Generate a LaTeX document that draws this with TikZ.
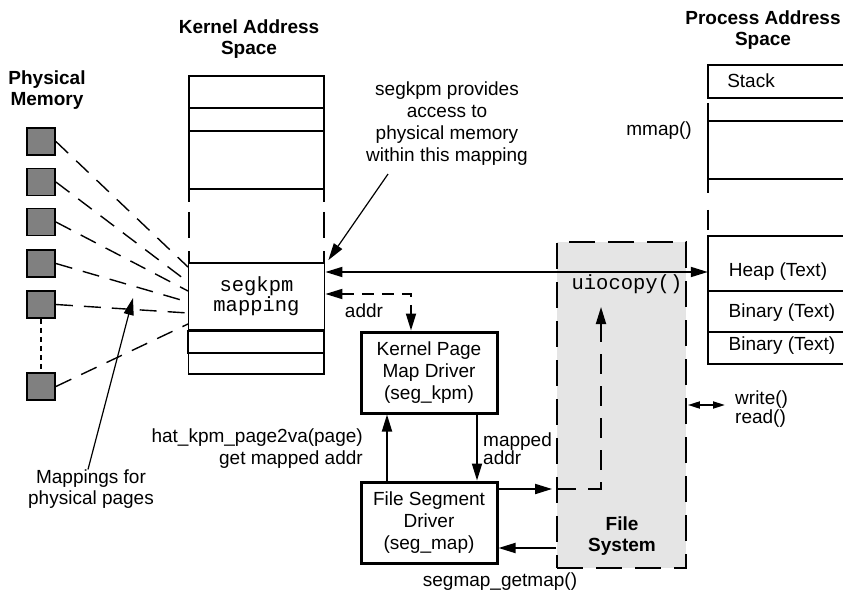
\documentclass[tikz,border=0pt]{standalone}
\usepackage{fontspec}
\setmainfont{Liberation Sans}
\newfontfamily\monof{Liberation Mono}
\usetikzlibrary{arrows.meta}
\definecolor{memgray}{RGB}{128,128,128}
\definecolor{fsgray}{RGB}{229,229,229}
\begin{document}
\begin{tikzpicture}[x=1pt,y=-1pt,
  txt/.style={font=\fontsize{19}{22}\selectfont, inner sep=0pt, align=center},
  ttl/.style={font=\fontsize{19}{20.5}\selectfont\bfseries, inner sep=0pt, align=center},
  mono/.style={font=\monof\fontsize{20.5}{20}\selectfont, inner sep=0pt, align=center},
  colline/.style={line width=1.8pt},
  drv/.style={draw, line width=3pt, minimum width=136pt, minimum height=81pt, inner sep=0pt, txt},
  sq/.style={draw, line width=1.8pt, fill=memgray, minimum width=28pt, minimum height=27pt, inner sep=0pt},
  fan/.style={line width=1.4pt, dash pattern=on 17pt off 11pt},
  conn/.style={line width=1.8pt},
  tipend/.style={-{Triangle[length=17pt,width=10pt]}},
  tipboth/.style={{Triangle[length=17pt,width=10pt]}-{Triangle[length=17pt,width=10pt]}},
  smallboth/.style={{Triangle[length=12pt,width=7pt]}-{Triangle[length=12pt,width=7pt]}},
  dashc/.style={line width=1.8pt, dash pattern=on 12pt off 8pt},
]
\useasboundingbox (0,0) rectangle (843,596);

% ---------- Physical memory ----------
\node[ttl] (pmtitle) at (47,90) {Physical\\Memory};
\node[sq] (p1) at (41,141.5) {};
\node[sq] (p2) at (41,182) {};
\node[sq] (p3) at (41,222) {};
\node[sq] (p4) at (41,263.5) {};
\node[sq] (p5) at (41,304.5) {};
\node[sq] (p6) at (41,386.5) {};
\draw[line width=2pt, dash pattern=on 5pt off 4pt] (p5.south) -- (p6.north);

\coordinate (k1) at (188,267);
\coordinate (k2) at (188,282);
\coordinate (k3) at (188,291);
\coordinate (k4) at (188,302);
\coordinate (k5) at (188,313);
\coordinate (k6) at (188,324);
\draw[fan] (p1.east) -- (k1);
\draw[fan] (p2.east) -- (k2);
\draw[fan] (p3.east) -- (k3);
\draw[fan] (p4.east) -- (k4);
\draw[fan] (p5.east) -- (k5);
\draw[fan] (p6.east) -- (k6);

\node[txt, font=\fontsize{19}{21}\selectfont] (maplabel) at (91,489) {Mappings for\\physical pages};
\coordinate (mt) at (133,298);
\draw[line width=1.2pt, tipend] ([xshift=-3pt]maplabel.north) -- (mt);

% ---------- Kernel address space ----------
\node[ttl] (katitle) at (249,39) {Kernel Address\\Space};
\draw[colline] (189,202) -- (189,76) -- (324,76) -- (324,202);
\draw[colline] (189,108) -- (324,108);
\draw[colline] (189,131) -- (324,131);
\draw[colline] (189,189) -- (324,189);
\draw[colline] (189,212) -- (189,238);
\draw[colline] (189,251) -- (189,263);
\draw[colline] (324,212) -- (324,238);
\draw[colline] (324,251) -- (324,263);
\node[mono, draw, line width=1.8pt, minimum width=136pt, minimum height=67pt] (segkpm) at (256.5,296.5) {segkpm\\mapping};
\draw[colline] (segkpm.south west) rectangle (324,353);
\draw[colline] (188.5,353) rectangle (324,374);

\node[txt] (note) at (447,124) {segkpm provides\\access to\\physical memory\\within this mapping};
\draw[line width=1.2pt, tipend] ([shift={(22,8)}]note.south west) -- ([shift={(3,-2)}]segkpm.north east);

% ---------- Drivers ----------
\node[drv] (kpm) at (429,372.5) {Kernel Page\\Map Driver\\(seg\_kpm)};
\node[drv] (fsd) at (429,522.5) {File Segment\\Driver\\(seg\_map)};

\coordinate (ay) at (0,294);
\coordinate (ax) at (411,0);
\draw[dashc, tipboth] (segkpm.east |- ay) -| (kpm.north -| ax);
\node[txt] (addrlbl) at (364,311) {addr};

\coordinate (ux) at (387,0);
\coordinate (dx) at (477,0);
\draw[conn, tipend] (fsd.north -| ux) -- (kpm.south -| ux);
\draw[conn, tipend] (kpm.south -| dx) -- (fsd.north -| dx);
\node[txt, align=right, anchor=east] (hatlbl) at (363,449) {hat\_kpm\_page2va(page)\\get mapped addr};
\node[txt, align=left, anchor=west, font=\fontsize{19}{18}\selectfont] (mappedlbl) at (483,449) {mapped\\addr};

% ---------- File system ----------
\node[draw, fill=fsgray, line width=1.8pt, dash pattern=on 26pt off 13pt, minimum width=129pt, minimum height=326pt, inner sep=0pt] (fs) at (621.5,405) {};
\node[ttl] (fslbl) at (622,536) {File\\System};
\node[mono] (uio) at (627,284) {uiocopy()};
\node[txt] (getmap) at (500,582) {segmap\_getmap()};

\coordinate (c1) at (601,489);
\coordinate (c2) at (601,307);
\coordinate (c3) at (0,548);
\draw[conn, tipend] (fsd.east |- c1) -- ([xshift=-4pt]fs.west |- c1);
\draw[line width=1.8pt, dash pattern=on 20pt off 12pt, tipend] (fs.west |- c1) -- (c1) -- (c2);
\draw[conn, tipend] (fs.west |- c3) -- (fsd.east |- c3);

% ---------- Process address space ----------
\node[ttl] (patitle) at (763,30) {Process Address\\Space};
\draw[colline] (843,65) -- (708,65) -- (708,98) -- (843,98);
\node[txt] (stack) at (751,81) {Stack};
\draw[colline] (708,103) -- (708,193);
\draw[colline] (708,121) -- (843,121);
\draw[colline] (708,179) -- (843,179);
\draw[colline] (708,210) -- (708,230);
\draw[colline] (843,236) -- (708,236) -- (708,364) -- (843,364);
\draw[colline] (708,291) -- (843,291);
\draw[colline] (708,332) -- (843,332);
\node[inner sep=0pt, minimum width=135pt, minimum height=55pt] (heap) at (775.5,263.5) {};
\node[txt] (heaplbl) at (778,272) {Heap (Text)};
\node[txt] (bin1) at (782,313) {Binary (Text)};
\node[txt] (bin2) at (782,346) {Binary (Text)};
\node[txt, anchor=east] (mmap) at (692,131) {mmap()};

\coordinate (hy) at (0,272);
\draw[conn, tipboth] (segkpm.east |- hy) -- (heap.west |- hy);

\node[txt, align=left, anchor=west, font=\fontsize{19}{17}\selectfont] (wr) at (735,409) {write()\\read()};
\coordinate (wy) at (0,405);
\draw[line width=1.8pt, smallboth] ([xshift=1pt]fs.east |- wy) -- ([xshift=-10pt]wr.west |- wy);
\end{tikzpicture}
\end{document}
